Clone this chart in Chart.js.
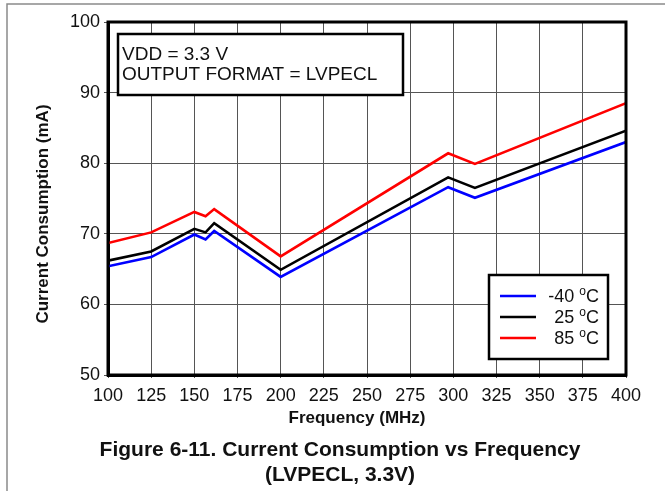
<!DOCTYPE html>
<html>
<head>
<meta charset="utf-8">
<script src="https://cdn.jsdelivr.net/npm/chart.js@4.4.0/dist/chart.umd.min.js"></script>
<style>
  html, body { margin: 0; padding: 0; background: #fff; }
</style>
</head>
<body>
<canvas id="grafico" width="665" height="491"></canvas>
<script>
// DADOS
const frequencias = [100, 125, 150, 156.5, 161.5, 200, 297, 312.5, 400];
const temp40neg = [65.4, 66.7, 69.9, 69.2, 70.4, 63.9, 76.6, 75.1, 83.0];
const temp25 = [66.2, 67.5, 70.7, 70.2, 71.5, 64.9, 78.0, 76.5, 84.6];
const temp85 = [68.7, 70.2, 73.1, 72.5, 73.5, 66.8, 81.4, 79.9, 88.5];

const legendas = ['-40', '25', '85'];
const cores = ['#0000ff', '#000000', '#ff0000'];

const caixaTexto = ['VDD = 3.3 V', 'OUTPUT FORMAT = LVPECL'];
const tituloX = 'Frequency (MHz)';
const tituloY = 'Current Consumption (mA)';
const tituloFigura = ['Figure 6-11. Current Consumption vs Frequency', '(LVPECL, 3.3V)'];

const FONTE = "'Liberation Sans', Arial, sans-serif";

function pontos(ys) {
  return frequencias.map((x, i) => ({ x: x, y: ys[i] }));
}

// moldura cinza, titulos, caixa de texto, legenda e titulo da figura
const extras = {
  id: 'extras',
  beforeDraw(chart) {
    const ctx = chart.ctx;
    ctx.save();
    ctx.fillStyle = '#fff';
    ctx.fillRect(0, 0, chart.width, chart.height);
    ctx.strokeStyle = '#8a8a8a';
    ctx.lineWidth = 1.5;
    ctx.beginPath();
    ctx.moveTo(7, chart.height);
    ctx.lineTo(7, 4);
    ctx.lineTo(chart.width, 4);
    ctx.stroke();
    ctx.restore();
  },
  afterDraw(chart) {
    const ctx = chart.ctx;
    const a = chart.chartArea;
    ctx.save();

    // borda do grafico
    ctx.strokeStyle = '#000';
    ctx.lineWidth = 3;
    ctx.strokeRect(a.left, a.top, a.right - a.left, a.bottom - a.top);

    // titulos dos eixos
    ctx.fillStyle = '#111';
    ctx.font = 'bold 17px ' + FONTE;
    ctx.textAlign = 'center';
    ctx.textBaseline = 'alphabetic';
    ctx.fillText(tituloX, 357, 423);
    ctx.save();
    ctx.translate(48, 214);
    ctx.rotate(-Math.PI / 2);
    ctx.fillText(tituloY, 0, 0);
    ctx.restore();

    // caixa VDD
    const bx = a.left + 10, by = a.top + 12, bw = 285, bh = 61;
    ctx.fillStyle = '#fff';
    ctx.fillRect(bx, by, bw, bh);
    ctx.lineWidth = 2.5;
    ctx.strokeRect(bx, by, bw, bh);
    ctx.fillStyle = '#111';
    ctx.font = '19px ' + FONTE;
    ctx.textAlign = 'left';
    ctx.fillText(caixaTexto[0], bx + 4, by + 26);
    ctx.fillText(caixaTexto[1], bx + 4, by + 46);

    // legenda
    const lw = 119, lh = 84;
    const lx = a.right - 18 - lw, ly = a.bottom - 16 - lh;
    ctx.fillStyle = '#fff';
    ctx.fillRect(lx, ly, lw, lh);
    ctx.strokeRect(lx, ly, lw, lh);
    chart.data.datasets.forEach((ds, i) => {
      const yy = ly + 21 + i * 21;
      ctx.strokeStyle = ds.borderColor;
      ctx.lineWidth = 2.5;
      ctx.beginPath();
      ctx.moveTo(lx + 11, yy);
      ctx.lineTo(lx + 47, yy);
      ctx.stroke();

      const direita = lx + lw - 9;
      ctx.fillStyle = '#111';
      ctx.font = '18px ' + FONTE;
      const wC = ctx.measureText('C').width;
      ctx.font = '12px ' + FONTE;
      const wO = ctx.measureText('o').width;
      ctx.font = '18px ' + FONTE;
      const txt = ds.label + ' ';
      const wT = ctx.measureText(txt).width;
      const x0 = direita - wC - wO - wT;
      const base = yy + 6;
      ctx.fillText(txt, x0, base);
      ctx.fillText('C', direita - wC, base);
      ctx.font = '12px ' + FONTE;
      ctx.fillText('o', x0 + wT, base - 7);
    });

    // titulo da figura
    ctx.fillStyle = '#111';
    ctx.font = 'bold 21px ' + FONTE;
    ctx.textAlign = 'center';
    ctx.fillText(tituloFigura[0], 340, 456);
    ctx.fillText(tituloFigura[1], 340, 481);
    ctx.restore();
  }
};

const ctxGraf = document.getElementById('grafico').getContext('2d');

const grafico = new Chart(ctxGraf, {
  type: 'line',
  data: {
    datasets: [
      { label: legendas[0], data: pontos(temp40neg), borderColor: cores[0] },
      { label: legendas[1], data: pontos(temp25), borderColor: cores[1] },
      { label: legendas[2], data: pontos(temp85), borderColor: cores[2] }
    ]
  },
  options: {
    responsive: false,
    animation: false,
    devicePixelRatio: 1,
    layout: { padding: { left: 8, right: 39, top: 22, bottom: 64 } },
    elements: {
      line: { borderWidth: 2.6, tension: 0 },
      point: { radius: 0 }
    },
    plugins: {
      legend: { display: false },
      tooltip: { enabled: false }
    },
    scales: {
      x: {
        type: 'linear',
        min: 100,
        max: 400,
        afterFit: (s) => { s.height = 52; },
        ticks: {
          stepSize: 25,
          color: '#111',
          padding: 7,
          maxRotation: 0,
          font: { family: FONTE, size: 18 }
        },
        grid: { color: '#555', lineWidth: 1, tickLength: 3 },
        border: { color: '#000', width: 3 }
      },
      y: {
        min: 50,
        max: 100,
        afterFit: (s) => { s.width = 100; },
        ticks: {
          stepSize: 10,
          color: '#111',
          padding: 4,
          font: { family: FONTE, size: 18 }
        },
        grid: { color: '#555', lineWidth: 1, tickLength: 4 },
        border: { color: '#000', width: 3 }
      }
    }
  },
  plugins: [extras]
});
</script>
</body>
</html>
